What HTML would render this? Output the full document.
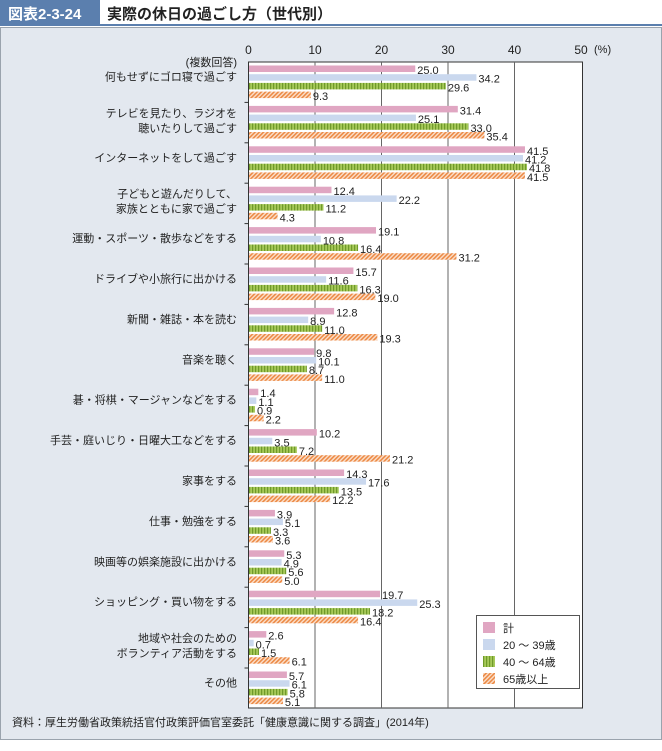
<!DOCTYPE html>
<html><head><meta charset="utf-8"><style>
body{margin:0;width:662px;height:746px;background:#fff;overflow:hidden}
svg text{font-family:"Liberation Sans","Noto Sans CJK JP",sans-serif}
</style></head><body>
<svg width="662" height="746" xmlns="http://www.w3.org/2000/svg">
<defs>
<pattern id="g" width="3" height="8" patternUnits="userSpaceOnUse"><rect width="3" height="8" fill="#a7c95a"/><rect width="1.2" height="8" fill="#6f9a2a"/></pattern>
<pattern id="o" width="3" height="3" patternUnits="userSpaceOnUse" patternTransform="rotate(45)"><rect width="3" height="3" fill="#fbe0cc"/><rect width="1.6" height="3" fill="#ec8a45"/></pattern>
</defs>
<rect x="0" y="0" width="662" height="746" fill="#fff"/>
<rect x="0.5" y="27.5" width="661" height="712" fill="#e3e8ef" stroke="#9aa3ad"/>
<rect x="0" y="0" width="100" height="25" fill="#5b7fae"/>
<rect x="0" y="24" width="662" height="2" fill="#5b7fae"/>
<text x="8" y="19" font-size="15" font-weight="bold" fill="#fff">図表2-3-24</text>
<text x="107" y="19" font-size="15" font-weight="bold" fill="#222">実際の休日の過ごし方（世代別）</text>
<rect x="248.5" y="62" width="334" height="646" fill="#fff" stroke="#333" stroke-width="1"/>
<g stroke="#666" stroke-width="1">
<line x1="315" y1="62" x2="315" y2="708"/><line x1="381.5" y1="62" x2="381.5" y2="708"/><line x1="448" y1="62" x2="448" y2="708"/><line x1="514.5" y1="62" x2="514.5" y2="708"/>
</g>
<g font-size="12" fill="#222" text-anchor="middle">
<text x="248.5" y="54">0</text><text x="315" y="54">10</text><text x="381.5" y="54">20</text><text x="448" y="54">30</text><text x="514.5" y="54">40</text><text x="581" y="54">50</text>
</g>
<text x="594" y="53" font-size="11" fill="#222">(%)</text>
<text x="237" y="66" font-size="11" fill="#222" text-anchor="end">(複数回答)</text>
<g id="bars"></g>
<g font-size="11" fill="#222" text-anchor="end" id="labels"></g>
<rect x="476.5" y="615.5" width="103" height="73" fill="#fff" stroke="#555"/>
<rect x="483" y="622" width="12" height="11" fill="#e0a6c2"/>
<rect x="483" y="639" width="12" height="11" fill="#cad8ee"/>
<rect x="483" y="656" width="12" height="11" fill="url(#g)"/>
<rect x="483" y="673" width="12" height="11" fill="url(#o)"/>
<g font-size="11" fill="#222"><text x="503" y="632">計</text><text x="503" y="649">20 ～ 39歳</text><text x="503" y="666">40 ～ 64歳</text><text x="503" y="683">65歳以上</text></g>
<text x="12" y="726" font-size="11" fill="#222">資料：厚生労働省政策統括官付政策評価官室委託「健康意識に関する調査」(2014年)</text>
</svg>
<script>
var d=[["何もせずにゴロ寝で過ごす",25.0,34.2,29.6,9.3],["テレビを見たり、ラジオを|聴いたりして過ごす",31.4,25.1,33.0,35.4],["インターネットをして過ごす",41.5,41.2,41.8,41.5],["子どもと遊んだりして、|家族とともに家で過ごす",12.4,22.2,11.2,4.3],["運動・スポーツ・散歩などをする",19.1,10.8,16.4,31.2],["ドライブや小旅行に出かける",15.7,11.6,16.3,19.0],["新聞・雑誌・本を読む",12.8,8.9,11.0,19.3],["音楽を聴く",9.8,10.1,8.7,11.0],["碁・将棋・マージャンなどをする",1.4,1.1,0.9,2.2],["手芸・庭いじり・日曜大工などをする",10.2,3.5,7.2,21.2],["家事をする",14.3,17.6,13.5,12.2],["仕事・勉強をする",3.9,5.1,3.3,3.6],["映画等の娯楽施設に出かける",5.3,4.9,5.6,5.0],["ショッピング・買い物をする",19.7,25.3,18.2,16.4],["地域や社会のための|ボランティア活動をする",2.6,0.7,1.5,6.1],["その他",5.7,6.1,5.8,5.1]];
var fills=["#e0a6c2","#cad8ee","url(#g)","url(#o)"];
var ns="http://www.w3.org/2000/svg",B=document.getElementById("bars"),L=document.getElementById("labels");
function el(t,a,p,txt){var e=document.createElementNS(ns,t);for(var k in a)e.setAttribute(k,a[k]);if(txt!=null)e.textContent=txt;p.appendChild(e);return e;}
for(var i=0;i<d.length;i++){var y0=65.5+i*40.4;
 if(i>0)el("line",{x1:244.5,x2:248.5,y1:y0-3.5,y2:y0-3.5,stroke:"#333"},B);
 for(var j=0;j<4;j++){var v=d[i][j+1],y=y0+j*8.7,w=v*6.65;
  el("rect",{x:249,y:y,width:w,height:6.5,fill:fills[j]},B);
  el("text",{x:249+w+2,y:y+8.5,"font-size":11,fill:"#222"},B,v.toFixed(1));}
 var parts=d[i][0].split("|"),cy=y0+15;
 if(parts.length==1)el("text",{x:237,y:cy},L,parts[0]);
 else{el("text",{x:237,y:cy-4},L,parts[0]);el("text",{x:237,y:cy+11},L,parts[1]);}
}
</script>
</body></html>
